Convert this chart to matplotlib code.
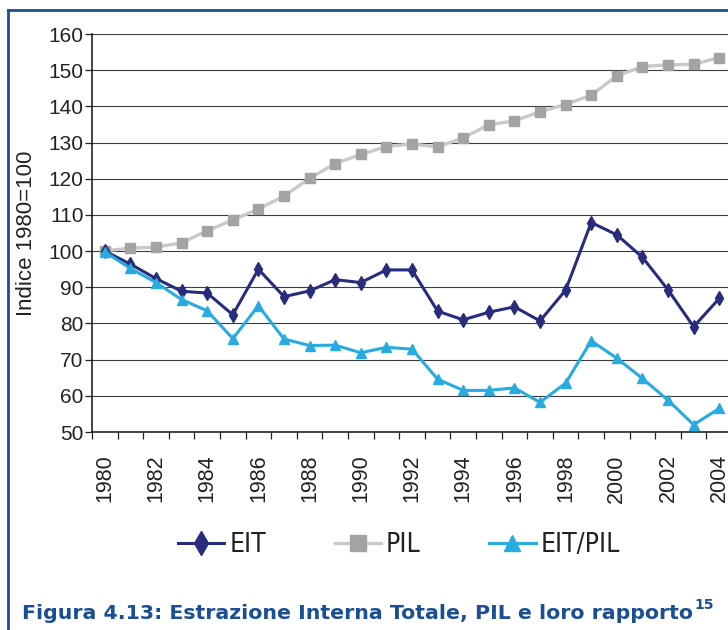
import matplotlib
matplotlib.use("Agg")
import matplotlib.pyplot as plt
from matplotlib.lines import Line2D
from matplotlib.ticker import FixedLocator
from matplotlib import font_manager as fm
import numpy as np

plt.rcParams['font.family'] = ['Liberation Sans', 'DejaVu Sans']

# dati (indice 1980=100)
anni = list(range(1980, 2005))
eit = [100, 96.4, 92.4, 88.9, 88.4, 82.4, 95.0, 87.4, 89.0, 92.1, 91.3, 94.8, 94.8,
       83.4, 81.0, 83.1, 84.6, 80.7, 89.2, 107.9, 104.5, 98.3, 89.3, 79.1, 86.9]
pil = [100.1, 100.8, 101.1, 102.3, 105.6, 108.6, 111.6, 115.2, 120.1, 124.2, 126.7,
       128.9, 129.6, 128.8, 131.3, 134.9, 136.0, 138.5, 140.5, 143.1, 148.4, 151.0,
       151.5, 151.6, 153.5]
eit_pil = [99.8, 95.2, 91.3, 86.6, 83.5, 75.8, 84.9, 75.7, 73.9, 74.0, 71.9, 73.4, 72.9,
           64.6, 61.5, 61.5, 62.2, 58.2, 63.5, 75.2, 70.4, 64.8, 58.8, 52.0, 56.5]

serie_nomi = ['EIT', 'PIL', 'EIT/PIL']
didascalia = 'Figura 4.13: Estrazione Interna Totale, PIL e loro rapporto'

C_EIT = '#272c7c'
C_PIL = '#c9c9c9'
C_PIL_M = '#a3a3a3'
C_RAP = '#27abe1'
BLU = '#1a4f94'

W, H = 728, 630
fig = plt.figure(figsize=(W / 100, H / 100), dpi=100)
ax = fig.add_axes([92 / W, 1 - 432 / H, 640 / W, 398 / H])

x = np.arange(len(anni))
ax.plot(x, eit, color=C_EIT, lw=2.2, marker='d', ms=7, mfc=C_EIT, mec=C_EIT,
        label=serie_nomi[0], zorder=4)
ax.plot(x, pil, color=C_PIL, lw=2.4, marker='s', ms=6.5, mfc=C_PIL_M, mec=C_PIL_M,
        label=serie_nomi[1], zorder=3)
ax.plot(x, eit_pil, color=C_RAP, lw=2.2, marker='^', ms=6.5, mfc=C_RAP, mec=C_RAP,
        label=serie_nomi[2], zorder=4)

ax.set_xlim(-0.5, len(anni) - 0.5)
ax.set_ylim(50, 160)
ax.set_yticks(range(50, 161, 10))
ax.yaxis.grid(True, color='#3c3c3c', lw=0.8)
ax.set_axisbelow(True)

ax.set_xticks(x[::2])
ax.set_xticklabels([str(a) for a in anni[::2]], rotation=90, fontsize=15.5)
ax.xaxis.set_minor_locator(FixedLocator(np.arange(-0.5, len(anni), 1.0)))
ax.tick_params(axis='x', which='major', length=0, pad=16, colors='#222222')
ax.tick_params(axis='x', which='minor', length=5, width=0.9, direction='out')
ax.tick_params(axis='y', length=5, width=0.9, labelsize=15, pad=1, colors='#222222')
ax.tick_params(axis='both', which='both', color='#222222')

for s in ['top', 'right']:
    ax.spines[s].set_visible(False)
for s in ['left', 'bottom']:
    ax.spines[s].set_color('#111111')
    ax.spines[s].set_linewidth(1.1)

ax.set_ylabel('Indice 1980=100', fontsize=16, color='#222222', labelpad=8)

# legenda con carattere stretto
narrow = fm.FontProperties(family='DejaVu Sans', stretch='condensed', size=19)
leg = fig.legend(loc='center', bbox_to_anchor=(399 / W, 1 - 545 / H), ncol=3,
                 frameon=False, handlelength=1.75, handletextpad=0.2,
                 columnspacing=2.6, markerscale=1.7, prop=narrow)
for t in leg.get_texts():
    t.set_color('#222222')

# cornice blu
fig.add_artist(Line2D([8 / W, 8 / W], [0, 1 - 10 / H], color=BLU, lw=2.0,
                      transform=fig.transFigure))
fig.add_artist(Line2D([8 / W, 1], [1 - 10 / H, 1 - 10 / H], color=BLU, lw=2.0,
                      transform=fig.transFigure))

# didascalia: dimensione adattata alla larghezza del riferimento (x 22 -> 692)
cap = fig.text(22 / W, 1 - 619 / H, didascalia, color=BLU, va='baseline',
               fontsize=15, fontweight='bold', family='DejaVu Sans')
fig.canvas.draw()
bb = cap.get_window_extent()
cap.set_fontsize(15 * (692 - 22) / bb.width)
fig.canvas.draw()
bb = cap.get_window_extent()
fig.text(bb.x1 / W + 1 / W, 1 - 609 / H, '15', color=BLU, va='baseline',
         fontsize=10, fontweight='bold', family='DejaVu Sans')

fig.savefig('out.png', dpi=100)
